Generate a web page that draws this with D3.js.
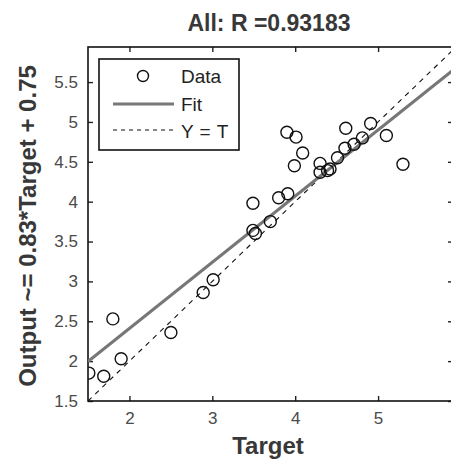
<!DOCTYPE html>
<html><head><meta charset="utf-8">
<script src="https://cdn.jsdelivr.net/npm/d3@7"></script>
<style>body{margin:0;background:#fff;}svg{display:block;}</style>
</head><body>
<svg id="c" width="451" height="459"></svg>
<script>
const targets = [1.51,1.69,1.80,1.90,2.50,2.89,3.01,3.49,3.52,3.49,3.70,3.80,3.91,3.90,4.01,4.09,3.99,4.30,4.30,4.39,4.42,4.51,4.60,4.61,4.71,4.81,4.91,5.10,5.30];
const outputs = [1.85,1.81,2.53,2.03,2.36,2.86,3.02,3.64,3.60,3.98,3.75,4.05,4.10,4.87,4.81,4.61,4.45,4.37,4.48,4.39,4.41,4.55,4.67,4.92,4.72,4.80,4.98,4.83,4.47];
const xTicks = [2,3,4,5];
const yTicks = [1.5,2,2.5,3,3.5,4,4.5,5,5.5];
const fitSlope = 0.83, fitIntercept = 0.75;
const lim = [1.5, 5.94];
const titleText = "All: R =0.93183";
const xLabel = "Target";
const yLabel = "Output ~= 0.83*Target + 0.75";
const legendItems = ["Data","Fit","Y = T"];

const FONT = "Liberation Sans, Arial, sans-serif";
const svg = d3.select("#c");
const L=88, R=456, T=47, B=401;
const x = d3.scaleLinear().domain(lim).range([L,R]);
const y = d3.scaleLinear().domain(lim).range([B,T]);

svg.append("defs").append("clipPath").attr("id","pc").append("rect")
  .attr("x",L).attr("y",T).attr("width",R-L).attr("height",B-T);

const tick = 5;
const styleTicks = g=>{g.select(".domain").remove();g.selectAll("line").attr("stroke","#222").attr("stroke-width",1.4);};
const ax = svg.append("g").attr("font-family",FONT);
ax.append("g").attr("transform",`translate(0,${B})`)
  .call(d3.axisBottom(x).tickValues(xTicks).tickSizeInner(-tick).tickSizeOuter(0).tickPadding(11).tickFormat(d3.format("d")))
  .call(styleTicks)
  .call(g=>g.selectAll("text").attr("fill","#4a4a4a").attr("font-size",17).attr("dy","0.71em"));
ax.append("g").attr("transform",`translate(0,${T})`)
  .call(d3.axisTop(x).tickValues(xTicks).tickSizeInner(-tick).tickSizeOuter(0).tickFormat(""))
  .call(styleTicks);
ax.append("g").attr("transform",`translate(${L},0)`)
  .call(d3.axisLeft(y).tickValues(yTicks).tickSizeInner(-tick).tickSizeOuter(0).tickPadding(10).tickFormat(d3.format("")))
  .call(styleTicks)
  .call(g=>g.selectAll("text").attr("fill","#4a4a4a").attr("font-size",17));
ax.append("g").attr("transform",`translate(${R},0)`)
  .call(d3.axisRight(y).tickValues(yTicks).tickSizeInner(-tick-3).tickSizeOuter(0).tickFormat(""))
  .call(styleTicks);

svg.append("rect").attr("x",L).attr("y",T).attr("width",R-L).attr("height",B-T)
  .attr("fill","none").attr("stroke","#111").attr("stroke-width",1.6);

const plot = svg.append("g").attr("clip-path","url(#pc)");
plot.append("line").attr("x1",x(lim[0])).attr("y1",y(lim[0])).attr("x2",x(lim[1])).attr("y2",y(lim[1]))
  .attr("stroke","#111").attr("stroke-width",1.1).attr("stroke-dasharray","5,5");
plot.append("line").attr("x1",x(lim[0])).attr("y1",y(fitSlope*lim[0]+fitIntercept))
  .attr("x2",x(lim[1])).attr("y2",y(fitSlope*lim[1]+fitIntercept))
  .attr("stroke","#777").attr("stroke-width",3);
plot.selectAll("circle.d").data(targets.map((t,i)=>[t,outputs[i]])).join("circle")
  .attr("class","d").attr("cx",d=>x(d[0])).attr("cy",d=>y(d[1])).attr("r",6)
  .attr("fill","none").attr("stroke","#111").attr("stroke-width",1.4);

// legend
const lg = svg.append("g").attr("font-family",FONT).attr("font-size",19);
lg.append("rect").attr("x",99).attr("y",59).attr("width",140).attr("height",91)
  .attr("fill","#fff").attr("stroke","#111").attr("stroke-width",1.6);
lg.append("circle").attr("cx",143).attr("cy",76).attr("r",5.5).attr("fill","none").attr("stroke","#111").attr("stroke-width",1.4);
lg.append("line").attr("x1",113).attr("x2",174).attr("y1",104).attr("y2",104).attr("stroke","#777").attr("stroke-width",3);
lg.append("line").attr("x1",113).attr("x2",176).attr("y1",130).attr("y2",130).attr("stroke","#111").attr("stroke-width",1.1).attr("stroke-dasharray","4,4");
[[76,0],[104,0],[131,0.5]].forEach(([yy,ls],i)=>{
  lg.append("text").attr("x",181).attr("y",yy).attr("dy","0.36em").attr("fill","#222")
    .attr("letter-spacing",ls).text(legendItems[i]);
});

// title and axis labels
svg.append("text").attr("x",269).attr("y",31).attr("text-anchor","middle")
  .attr("font-family",FONT).attr("font-weight","bold").attr("font-size",23)
  .attr("fill","#383838").text(titleText);
svg.append("text").attr("x",268).attr("y",454).attr("text-anchor","middle")
  .attr("font-family",FONT).attr("font-weight","bold").attr("font-size",24)
  .attr("fill","#383838").text(xLabel);
svg.append("text").attr("transform","translate(36,226) rotate(-90)").attr("text-anchor","middle")
  .attr("font-family",FONT).attr("font-weight","bold").attr("font-size",24)
  .attr("fill","#383838").text(yLabel);
</script>
</body></html>
